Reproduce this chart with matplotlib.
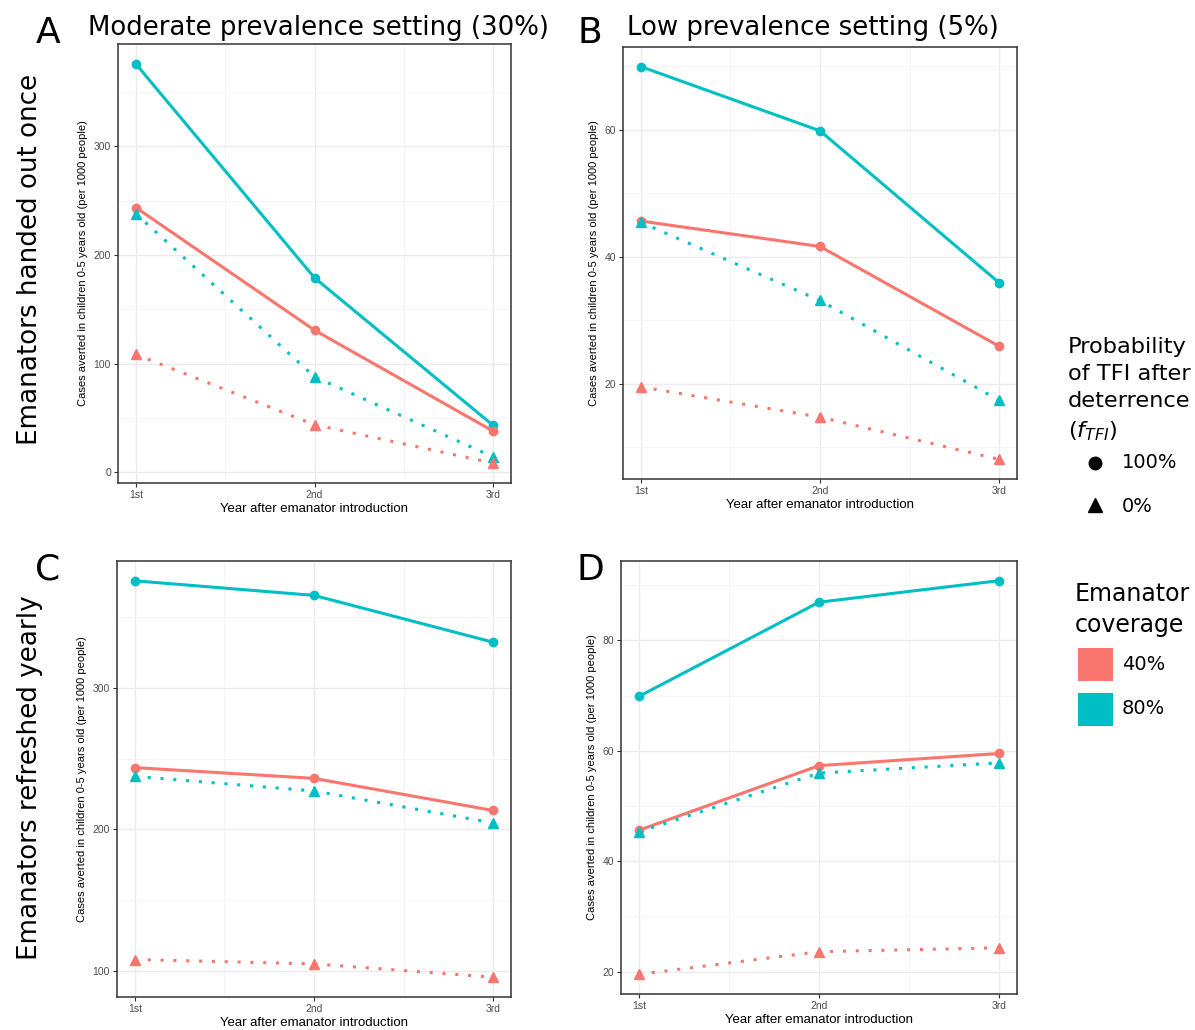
import matplotlib
matplotlib.use("Agg")
import matplotlib.pyplot as plt
from matplotlib.lines import Line2D
from matplotlib.patches import Rectangle

# data
years = ["1st", "2nd", "3rd"]
# panel A: moderate prevalence, handed out once
a_80_100 = [376, 179, 43]
a_40_100 = [243.7, 130.7, 37.7]
a_80_0 = [238, 87.8, 14]
a_40_0 = [108.4, 43.6, 8.3]
# panel B: low prevalence, handed out once
b_80_100 = [69.9, 59.8, 35.9]
b_40_100 = [45.6, 41.6, 25.9]
b_80_0 = [45.4, 33.1, 17.4]
b_40_0 = [19.5, 14.75, 8.1]
# panel C: moderate prevalence, refreshed yearly
c_80_100 = [375.8, 365.5, 332.4]
c_40_100 = [243.7, 236.1, 213.4]
c_80_0 = [237.5, 227.2, 204.6]
c_40_0 = [108, 104.9, 95.5]
# panel D: low prevalence, refreshed yearly
d_80_100 = [69.85, 86.9, 90.8]
d_40_100 = [45.6, 57.3, 59.5]
d_80_0 = [45.3, 55.95, 57.8]
d_40_0 = [19.5, 23.6, 24.3]

red = "#F8766D"
teal = "#00BFC4"
W, H = 1195, 1030

fig = plt.figure(figsize=(W / 100, H / 100), dpi=100)


def add_ax(left, top, right, bottom):
    return fig.add_axes([left / W, 1 - bottom / H, (right - left) / W, (bottom - top) / H])


def panel(ax, s80_100, s40_100, s80_0, s40_0, major, minor):
    x = [1, 2, 3]
    ax.plot(x, s80_100, color=teal, lw=2.2, marker="o", ms=6, zorder=3)
    ax.plot(x, s40_100, color=red, lw=2.2, marker="o", ms=6, zorder=3)
    ax.plot(x, s80_0, color=teal, lw=2.2, ls=(0, (1, 3.2)), marker="^", ms=7, zorder=3)
    ax.plot(x, s40_0, color=red, lw=2.2, ls=(0, (1, 3.2)), marker="^", ms=7, zorder=3)
    ax.set_xlim(0.9, 3.1)
    ax.margins(y=0.05)
    ax.set_xticks(x)
    ax.set_xticklabels(years)
    ax.set_xticks([1.5, 2.5], minor=True)
    ax.set_yticks(major)
    ax.set_yticks(minor, minor=True)
    ax.grid(True, which="major", color="#EBEBEB", lw=1.0)
    ax.grid(True, which="minor", color="#F2F2F2", lw=0.6)
    ax.set_axisbelow(True)
    for s in ax.spines.values():
        s.set_color("#333333")
        s.set_linewidth(1.1)
    ax.tick_params(which="major", length=3, color="#333333", labelsize=7.5,
                   labelcolor="#4D4D4D", pad=2)
    ax.tick_params(which="minor", length=0)
    for t in ax.get_xticklabels() + ax.get_yticklabels():
        t.set_family("Liberation Sans")
    ax.set_xlabel("Year after emanator introduction", fontsize=9.5,
                  family="Liberation Sans", labelpad=2)
    ax.set_ylabel("Cases averted in children 0-5 years old (per 1000 people)",
                  fontsize=8, family="Liberation Sans", labelpad=4)


axA = add_ax(118, 44, 511, 483)
panel(axA, a_80_100, a_40_100, a_80_0, a_40_0, [0, 100, 200, 300], [50, 150, 250, 350])
axB = add_ax(623, 47, 1017, 479)
panel(axB, b_80_100, b_40_100, b_80_0, b_40_0, [20, 40, 60], [10, 30, 50, 70])
axC = add_ax(117, 561, 511, 997)
panel(axC, c_80_100, c_40_100, c_80_0, c_40_0, [100, 200, 300], [150, 250, 350])
axD = add_ax(621, 561, 1017, 994)
panel(axD, d_80_100, d_40_100, d_80_0, d_40_0, [20, 40, 60, 80], [30, 50, 70, 90])

# titles and panel letters
fig.text(318 / W, 1 - 28 / H, "Moderate prevalence setting (30%)", fontsize=18.7,
         ha="center", va="center")
fig.text(813 / W, 1 - 28 / H, "Low prevalence setting (5%)", fontsize=18.7,
         ha="center", va="center")
for lx, ly, lab in [(48, 33, "A"), (590, 33, "B"), (48, 570, "C"), (590, 570, "D")]:
    fig.text(lx / W, 1 - ly / H, lab, fontsize=26, ha="center", va="center")
fig.text(30 / W, 1 - 259 / H, "Emanators handed out once", fontsize=18.8,
         rotation=90, ha="center", va="center")
fig.text(30 / W, 1 - 778 / H, "Emanators refreshed yearly", fontsize=18.8,
         rotation=90, ha="center", va="center")

# legends drawn by hand
fig.text(1068 / W, 1 - 337 / H, "Probability\nof TFI after\ndeterrence\n($f_{TFI}$)",
         fontsize=16.2, ha="left", va="top", linespacing=1.45)
fig.add_artist(Line2D([1095 / W], [1 - 463 / H], marker="o", color="black", ms=9,
                      transform=fig.transFigure))
fig.text(1122 / W, 1 - 463 / H, "100%", fontsize=14, va="center")
fig.add_artist(Line2D([1095 / W], [1 - 505 / H], marker="^", color="black", ms=10,
                      transform=fig.transFigure))
fig.text(1122 / W, 1 - 506 / H, "0%", fontsize=14, va="center")

fig.text(1075 / W, 1 - 582 / H, "Emanator\ncoverage", fontsize=17, ha="left",
         va="top", linespacing=1.35)
for yy, col, lab in [(664, red, "40%"), (709, teal, "80%")]:
    fig.add_artist(Rectangle((1078 / W, 1 - (yy + 17) / H), 35 / W, 33 / H,
                             facecolor=col, edgecolor="none", transform=fig.transFigure))
    fig.text(1122 / W, 1 - yy / H, lab, fontsize=14, va="center")

fig.savefig("out.png", dpi=100)
